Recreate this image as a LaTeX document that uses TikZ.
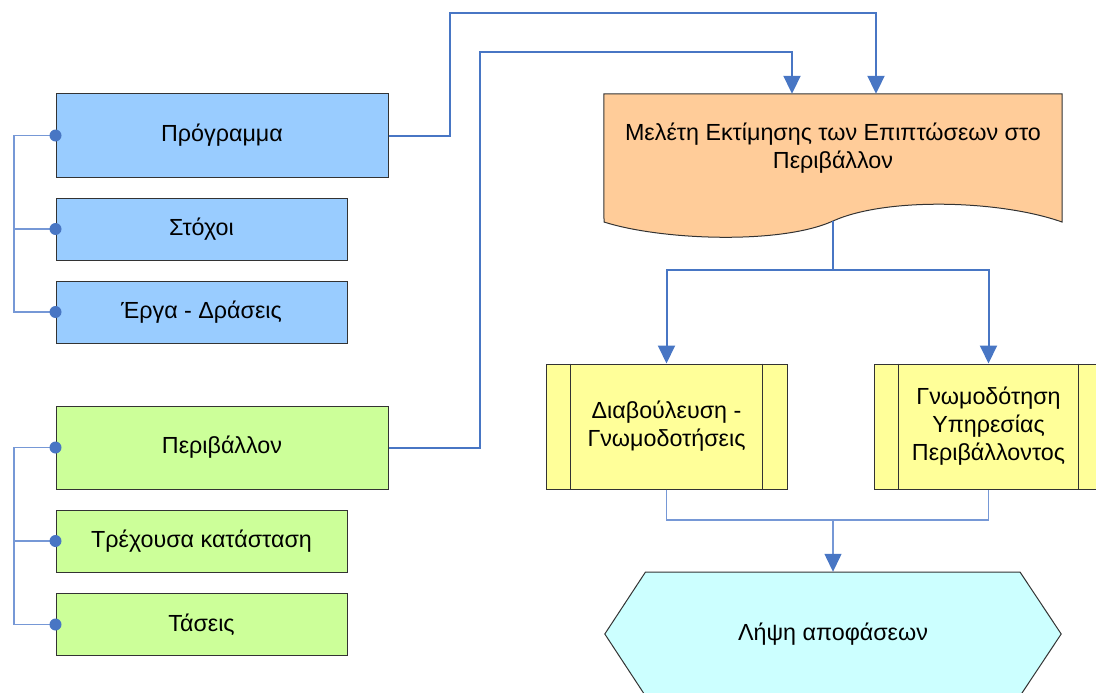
\documentclass[tikz,border=0pt]{standalone}
\usepackage{fontspec}
\setmainfont{Liberation Sans}
\usetikzlibrary{arrows.meta}
\definecolor{linkblue}{RGB}{72,118,196}
\definecolor{thinblue}{RGB}{118,152,214}
\definecolor{progfill}{RGB}{153,204,255}
\definecolor{envfill}{RGB}{204,255,153}
\definecolor{studyfill}{RGB}{255,204,153}
\definecolor{opinionfill}{RGB}{255,255,153}
\definecolor{decidefill}{RGB}{204,255,255}
\begin{document}
\begin{tikzpicture}[x=1pt, y=-1pt,
    label font/.style={font=\fontsize{23.3}{28}\selectfont, align=center, inner sep=0pt},
    box/.style={label font, draw=black!80, line width=1pt},
    progbox/.style={box, fill=progfill},
    envbox/.style={box, fill=envfill},
    optbox/.style={box, fill=opinionfill, minimum height=125pt},
    link/.style={linkblue, line width=2pt, -{Triangle[width=17pt,length=18pt]}},
    thinlink/.style={thinblue, line width=1.3pt},
    dot/.style={fill=linkblue}]
    \useasboundingbox (0,0) rectangle (1096,693);
    \coordinate (trunk) at (14,0);
    % left column
    \node[progbox, minimum width=332pt, minimum height=83pt] (prog) at (222,135.5) {Πρόγραμμα};
    \node[progbox, minimum width=291pt, minimum height=62pt] (goal) at (201.5,229) {Στόχοι};
    \node[progbox, minimum width=291pt, minimum height=62pt] (works) at (201.5,312) {Έργα - Δράσεις};
    \node[envbox, minimum width=332pt, minimum height=83pt] (env) at (222,447.5) {Περιβάλλον};
    \node[envbox, minimum width=291pt, minimum height=62pt] (state) at (201.5,541) {Τρέχουσα κατάσταση};
    \node[envbox, minimum width=291pt, minimum height=62pt] (trend) at (201.5,624.5) {Τάσεις};
    \draw[thinlink] (prog.west) -- (prog.west -| trunk) |- (works.west);
    \draw[thinlink] (goal.west) -- (goal.west -| trunk);
    \draw[thinlink] (env.west) -- (env.west -| trunk) |- (trend.west);
    \draw[thinlink] (state.west) -- (state.west -| trunk);
    \foreach \n in {prog, goal, works, env, state, trend}
        \fill[dot] (\n.west) circle (6pt);
    % study
    \node[minimum width=458pt, minimum height=128pt] (study) at (833,158) {};
    \draw[fill=studyfill, draw=black!80, line width=1pt] (study.north west) -- (study.north east)
        -- (1062,222) .. controls (1000,200) and (886,197) .. (833,221)
        .. controls (780,245) and (660,240) .. (604,222) -- cycle;
    \node[label font] (studytext) at (833,148.5) {Μελέτη Εκτίμησης των Επιπτώσεων στο\\Περιβάλλον};
    \coordinate (studyfoot) at (833,221);
    \draw[link] (prog.east) -| (450,13) -| ([xshift=43pt]study.north);
    \draw[link] (env.east) -| (480,52) -| ([xshift=-41pt]study.north);
    % consultation
    \node[optbox, minimum width=241pt] (consult) at (666.5,426.5) {Διαβούλευση -\\Γνωμοδοτήσεις};
    \node[optbox, minimum width=229pt] (opinion) at (988.5,426.5) {Γνωμοδότηση\\Υπηρεσίας\\Περιβάλλοντος};
    \foreach \n in {consult, opinion} {
        \draw[draw=black!80, line width=1pt] ([xshift=25pt]\n.north west) -- ([xshift=25pt]\n.south west);
        \draw[draw=black!80, line width=1pt] ([xshift=-25pt]\n.north east) -- ([xshift=-25pt]\n.south east);
    }
    \coordinate (split) at (833,270);
    \draw[linkblue, line width=2pt] (studyfoot) -- (split);
    \draw[link] (split) -| (consult.north);
    \draw[link] (split) -| (opinion.north);
    % decision
    \node[minimum width=456pt, minimum height=124pt] (decide) at (833,634) {};
    \draw[fill=decidefill, draw=black!80, line width=1pt] (645.5,572) -- (1020,572) -- (decide.east)
        -- (1020,696) -- (645.5,696) -- (decide.west) -- cycle;
    \node[label font] (decidetext) at (decide) {Λήψη αποφάσεων};
    \coordinate (merge) at (833,520);
    \draw[thinlink] (consult.south) |- (merge) -| (opinion.south);
    \draw[thinlink, -{Triangle[width=17pt,length=18pt,color=linkblue]}] (merge) -- (decide.north);
\end{tikzpicture}
\end{document}
